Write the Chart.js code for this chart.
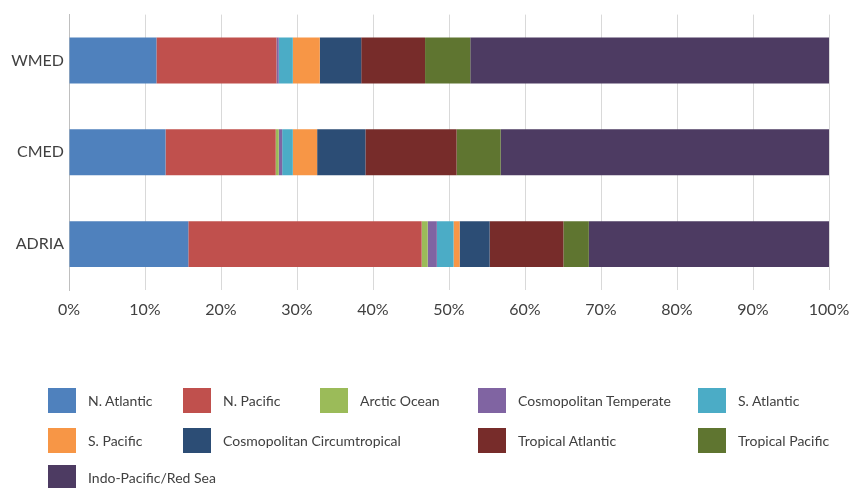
<!DOCTYPE html>
<html>
<head>
<meta charset="utf-8">
<script src="https://cdn.jsdelivr.net/npm/chart.js@4/dist/chart.umd.min.js"></script>
<style>
  body { margin: 0; background: #fff; width: 854px; height: 488px; overflow: hidden; position: relative; }
  #wrap { position: absolute; left: 0; top: 0; width: 854px; height: 330px; }
  #legend { position: absolute; left: 0; top: 0; width: 854px; height: 488px; pointer-events: none; }
  .item { position: absolute; display: flex; align-items: center; font-family: Lato, "Open Sans", sans-serif; font-size: 14px; color: #404040; white-space: nowrap; }
  .box { width: 28px; height: 25px; margin-right: 12px; }
</style>
</head>
<body>
<div id="wrap"><canvas id="chartOrigin"></canvas></div>
<div id="legend"></div>
<script>
var regions = ["WMED", "CMED", "ADRIA"];

var nAtlantic      = [11.5, 12.7, 15.7];
var nPacific       = [15.8, 14.5, 30.7];
var arcticOcean    = [0.0, 0.4, 0.8];
var cosmoTemperate = [0.3, 0.45, 1.2];
var sAtlantic      = [1.85, 1.4, 2.2];
var sPacific       = [3.55, 3.2, 0.8];
var cosmoCircum    = [5.45, 6.35, 3.95];
var tropAtlantic   = [8.4, 12.0, 9.7];
var tropPacific    = [5.95, 5.8, 3.35];
var indoPacific    = [47.2, 43.2, 31.6];

var xTicks = [0, 10, 20, 30, 40, 50, 60, 70, 80, 90, 100];

var series = [
    ["N. Atlantic", nAtlantic, "#4F81BD"],
    ["N. Pacific", nPacific, "#C0504D"],
    ["Arctic Ocean", arcticOcean, "#9BBB59"],
    ["Cosmopolitan Temperate", cosmoTemperate, "#8064A2"],
    ["S. Atlantic", sAtlantic, "#4BACC6"],
    ["S. Pacific", sPacific, "#F79646"],
    ["Cosmopolitan Circumtropical", cosmoCircum, "#2C4D75"],
    ["Tropical Atlantic", tropAtlantic, "#772C2A"],
    ["Tropical Pacific", tropPacific, "#5F7530"],
    ["Indo-Pacific/Red Sea", indoPacific, "#4D3B62"]
];

var datasets = series.map(function(s) {
    return {
        label: s[0],
        data: s[1],
        backgroundColor: s[2],
        borderWidth: 0,
        barPercentage: 0.5,
        categoryPercentage: 1.0
    };
});

var tickFont = { family: "Lato, 'Open Sans', sans-serif", size: 16 };

var chartOrigin = new Chart(document.getElementById("chartOrigin"), {
    type: 'bar',
    data: { labels: regions, datasets: datasets },
    options: {
        indexAxis: 'y',
        responsive: true,
        maintainAspectRatio: false,
        animation: false,
        layout: { padding: { left: 0, right: 25, top: 14, bottom: 0 } },
        plugins: {
            legend: { display: false },
            tooltip: { enabled: false }
        },
        scales: {
            x: {
                stacked: true,
                min: 0,
                max: 100,
                afterBuildTicks: function(scale) {
                    scale.ticks = xTicks.map(function(v) { return { value: v }; });
                },
                afterFit: function(scale) {
                    scale.height = 40;
                    scale.paddingLeft = 0;
                    scale.paddingRight = 0;
                },
                grid: { color: '#d9d9d9', drawTicks: false },
                border: { display: false },
                ticks: {
                    padding: 10,
                    color: '#404040',
                    font: tickFont,
                    callback: function(v) { return v + '%'; }
                }
            },
            y: {
                stacked: true,
                afterFit: function(scale) { scale.width = 69; },
                grid: { display: false, drawTicks: false },
                border: { display: true, color: '#bfbfbf' },
                ticks: { padding: 5, color: '#404040', font: tickFont }
            }
        }
    }
});

// legend laid out like the original 5-column grid
var legendCols = [48, 183, 320, 478, 698];
var legendRows = [388, 428, 465];
var slots = [[0,0],[0,1],[0,2],[0,3],[0,4],[1,0],[1,1],[1,3],[1,4],[2,0]];
var legend = document.getElementById("legend");
chartOrigin.data.datasets.forEach(function(ds, i) {
    var el = document.createElement("div");
    el.className = "item";
    el.style.left = legendCols[slots[i][1]] + "px";
    el.style.top = legendRows[slots[i][0]] + "px";
    el.innerHTML = '<div class="box" style="background:' + ds.backgroundColor + '"></div><span>' + ds.label + '</span>';
    legend.appendChild(el);
});
</script>
</body>
</html>
